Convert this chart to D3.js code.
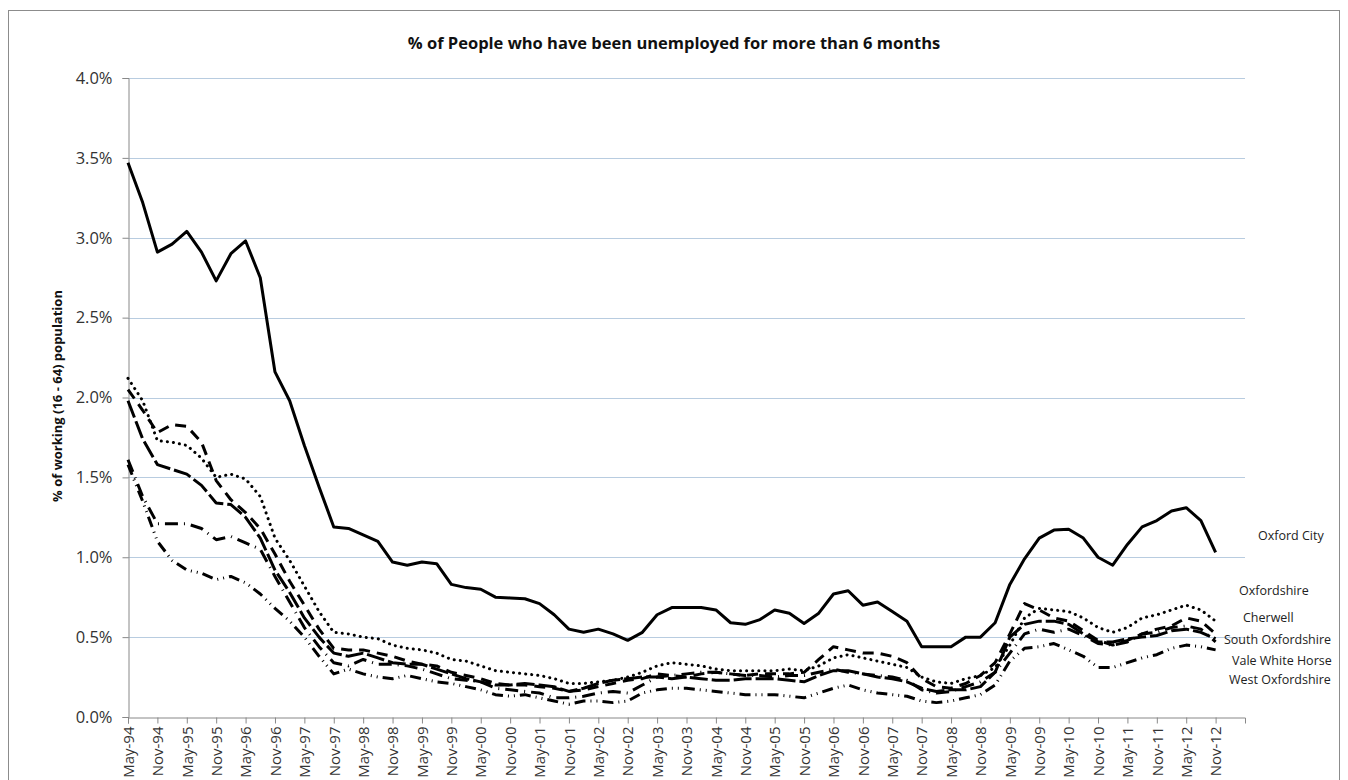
<!DOCTYPE html>
<html>
<head>
<meta charset="utf-8">
<script src="https://cdn.jsdelivr.net/npm/d3@7"></script>
<style>
  body { margin: 0; background: #fff; }
  svg { display: block; font-family: "Open Sans", "DejaVu Sans", sans-serif; }
</style>
</head>
<body>
<div class="chart"></div>
<script>
// quarterly periods, May-94 .. Nov-12 (labels every 6 months)
const years = d3.range(1994, 2013);
const tickLabels = [];
years.forEach(y => {
  const yy = String(y).slice(2);
  tickLabels.push("May-" + yy, "Nov-" + yy);
});

const seriesNames = ["Oxford City", "Oxfordshire", "Cherwell", "South Oxfordshire", "Vale White Horse", "West Oxfordshire"];

const oxfordCity = [3.47, 3.22, 2.91, 2.96, 3.04, 2.91, 2.73, 2.90, 2.98, 2.75,
  2.16, 1.98, 1.70, 1.44, 1.19, 1.18, 1.14, 1.10, 0.97, 0.95,
  0.97, 0.96, 0.83, 0.81, 0.80, 0.75, 0.745, 0.74, 0.71, 0.64,
  0.55, 0.53, 0.55, 0.52, 0.48, 0.53, 0.64, 0.685, 0.685, 0.685,
  0.67, 0.59, 0.58, 0.61, 0.67, 0.65, 0.585, 0.65, 0.77, 0.79,
  0.70, 0.72, 0.66, 0.60, 0.44, 0.44, 0.44, 0.50, 0.50, 0.59,
  0.83, 0.99, 1.12, 1.17, 1.175, 1.12, 1.00, 0.95, 1.08, 1.19,
  1.23, 1.29, 1.31, 1.23, 1.03];

const oxfordshire = [2.12, 1.98, 1.73, 1.72, 1.70, 1.62, 1.50, 1.52, 1.49, 1.38,
  1.12, 0.98, 0.82, 0.66, 0.53, 0.52, 0.50, 0.49, 0.45, 0.43,
  0.42, 0.40, 0.36, 0.35, 0.32, 0.29, 0.28, 0.27, 0.26, 0.24,
  0.21, 0.21, 0.22, 0.23, 0.25, 0.28, 0.32, 0.34, 0.33, 0.32,
  0.30, 0.29, 0.29, 0.29, 0.29, 0.30, 0.29, 0.32, 0.37, 0.39,
  0.37, 0.35, 0.33, 0.31, 0.25, 0.22, 0.21, 0.24, 0.26, 0.31,
  0.45, 0.62, 0.68, 0.67, 0.66, 0.62, 0.56, 0.53, 0.56, 0.62,
  0.64, 0.67, 0.70, 0.67, 0.60];

const cherwell = [2.05, 1.92, 1.78, 1.83, 1.82, 1.72, 1.48, 1.36, 1.28, 1.18,
  1.02, 0.85, 0.70, 0.55, 0.43, 0.42, 0.42, 0.40, 0.38, 0.35,
  0.33, 0.32, 0.28, 0.26, 0.24, 0.21, 0.20, 0.20, 0.19, 0.18,
  0.16, 0.17, 0.19, 0.21, 0.23, 0.24, 0.27, 0.26, 0.25, 0.27,
  0.28, 0.27, 0.26, 0.27, 0.27, 0.27, 0.28, 0.36, 0.44, 0.42,
  0.40, 0.40, 0.38, 0.34, 0.24, 0.19, 0.18, 0.21, 0.26, 0.34,
  0.52, 0.71, 0.67, 0.62, 0.60, 0.54, 0.48, 0.45, 0.48, 0.52,
  0.55, 0.57, 0.62, 0.60, 0.52];

const southOxfordshire = [1.98, 1.74, 1.58, 1.55, 1.52, 1.45, 1.34, 1.33, 1.25, 1.12,
  0.92, 0.78, 0.62, 0.50, 0.40, 0.38, 0.40, 0.37, 0.34, 0.33,
  0.33, 0.30, 0.27, 0.24, 0.22, 0.20, 0.20, 0.21, 0.20, 0.19,
  0.16, 0.18, 0.21, 0.23, 0.24, 0.25, 0.25, 0.24, 0.25, 0.24,
  0.23, 0.23, 0.24, 0.24, 0.24, 0.23, 0.22, 0.26, 0.29, 0.29,
  0.27, 0.25, 0.24, 0.22, 0.18, 0.16, 0.17, 0.17, 0.19, 0.28,
  0.50, 0.58, 0.60, 0.60, 0.58, 0.52, 0.47, 0.47, 0.49, 0.50,
  0.51, 0.54, 0.55, 0.53, 0.49];

const valeWhiteHorse = [1.61, 1.38, 1.21, 1.21, 1.21, 1.18, 1.11, 1.13, 1.09, 1.05,
  0.88, 0.72, 0.56, 0.44, 0.34, 0.32, 0.36, 0.33, 0.33, 0.32,
  0.30, 0.27, 0.24, 0.23, 0.22, 0.18, 0.17, 0.16, 0.15, 0.12,
  0.12, 0.13, 0.15, 0.16, 0.15, 0.20, 0.25, 0.26, 0.27, 0.28,
  0.28, 0.27, 0.26, 0.26, 0.25, 0.26, 0.26, 0.28, 0.30, 0.28,
  0.27, 0.26, 0.25, 0.23, 0.17, 0.15, 0.16, 0.19, 0.22, 0.28,
  0.40, 0.52, 0.55, 0.53, 0.55, 0.51, 0.46, 0.45, 0.47, 0.52,
  0.53, 0.56, 0.57, 0.55, 0.47];

const westOxfordshire = [1.58, 1.35, 1.10, 0.98, 0.92, 0.90, 0.86, 0.88, 0.84, 0.77,
  0.68, 0.60, 0.50, 0.38, 0.27, 0.30, 0.27, 0.25, 0.24, 0.26,
  0.24, 0.22, 0.21, 0.19, 0.17, 0.14, 0.13, 0.14, 0.12, 0.10,
  0.08, 0.10, 0.10, 0.09, 0.10, 0.15, 0.17, 0.18, 0.18, 0.17,
  0.16, 0.15, 0.14, 0.14, 0.14, 0.13, 0.12, 0.15, 0.18, 0.20,
  0.17, 0.15, 0.14, 0.13, 0.10, 0.09, 0.10, 0.12, 0.14, 0.20,
  0.35, 0.43, 0.44, 0.46, 0.42, 0.38, 0.31, 0.31, 0.34, 0.37,
  0.39, 0.43, 0.45, 0.44, 0.42];

const seriesValues = [oxfordCity, oxfordshire, cherwell, southOxfordshire, valeWhiteHorse, westOxfordshire];
// where each name sits on the right, in % units
const labelLevels = [1.13, 0.79, 0.62, 0.48, 0.35, 0.23];
const yTicks = [0, 0.5, 1.0, 1.5, 2.0, 2.5, 3.0, 3.5, 4.0];

const width = 1348;
const height = 780;

const x = d3.scaleLinear().domain([0, 76]).range([128, 1245]);
const y = d3.scaleLinear().domain([0, 4]).range([717, 78]);

const svg = d3.select(".chart")
  .append("svg")
  .attr("width", width)
  .attr("height", height);

// chart border
svg.append("rect")
  .attr("x", 8.5).attr("y", 10.5)
  .attr("width", 1331).attr("height", 800)
  .attr("fill", "none")
  .attr("stroke", "#8c8c8c");

svg.append("text")
  .attr("x", 674).attr("y", 49)
  .attr("text-anchor", "middle")
  .style("font-size", "16.5px")
  .style("font-weight", "bold")
  .attr("fill", "#111")
  .text("% of People who have been unemployed for more than 6 months");

// gridlines
svg.append("g")
  .selectAll("line")
  .data(yTicks.filter(d => d > 0))
  .enter()
  .append("line")
  .attr("x1", x(0)).attr("x2", x(76))
  .attr("y1", d => Math.round(y(d)) + 0.5)
  .attr("y2", d => Math.round(y(d)) + 0.5)
  .attr("stroke", "#b8cce0")
  .attr("stroke-width", 1);

// y axis
const yAxis = svg.append("g")
  .attr("transform", "translate(128.5,0)")
  .call(d3.axisLeft(y).tickValues(yTicks).tickSize(6).tickFormat(d => d.toFixed(1) + "%"));
yAxis.select(".domain").attr("stroke", "#888");
yAxis.selectAll(".tick line").attr("stroke", "#888");
yAxis.selectAll(".tick text")
  .attr("x", -16)
  .attr("fill", "#333")
  .style("font-size", "16.5px")
  .style("font-family", "'Open Sans', sans-serif");

svg.append("text")
  .attr("transform", "translate(62,396) rotate(-90)")
  .attr("text-anchor", "middle")
  .style("font-size", "13px")
  .style("font-weight", "bold")
  .attr("fill", "#111")
  .text("% of working (16 - 64) population");

// x axis
const xAxis = svg.append("g")
  .attr("transform", "translate(0,717.5)")
  .call(d3.axisBottom(x)
    .tickValues(d3.range(0, 75, 2))
    .tickSize(6)
    .tickFormat((d, i) => tickLabels[i]));
xAxis.select(".domain").attr("stroke", "#888");
xAxis.selectAll(".tick line").attr("stroke", "#888");
xAxis.selectAll(".tick text")
  .attr("transform", "rotate(-90)")
  .attr("x", -9)
  .attr("y", 0)
  .attr("dy", "0.35em")
  .attr("text-anchor", "end")
  .attr("fill", "#333")
  .style("font-size", "15px")
  .style("font-family", "'Open Sans', sans-serif");

// lines
const dashes = [null, "0.1,6", "11,7", "18,4", "13,6,1,6", "11,5,1,5,1,5"];
const line = d3.line()
  .x((d, i) => x(i))
  .y(d => y(d));

svg.append("g")
  .selectAll("path")
  .data(seriesValues)
  .enter()
  .append("path")
  .attr("d", d => line(d))
  .attr("fill", "none")
  .attr("stroke", "#000")
  .attr("stroke-width", 3)
  .attr("stroke-linejoin", "round")
  .attr("stroke-linecap", (d, i) => i === 1 ? "round" : "butt")
  .attr("stroke-dasharray", (d, i) => dashes[i]);

// series names at the right
const labelStart = [1258, 1239, 1243, 1224, 1232, 1229];
svg.append("g")
  .selectAll("text")
  .data(seriesNames)
  .enter()
  .append("text")
  .attr("x", (d, i) => labelStart[i])
  .attr("y", (d, i) => y(labelLevels[i]) + 4)
  .attr("fill", "#222")
  .style("font-size", "12.5px")
  .text(d => d);
</script>
</body>
</html>
